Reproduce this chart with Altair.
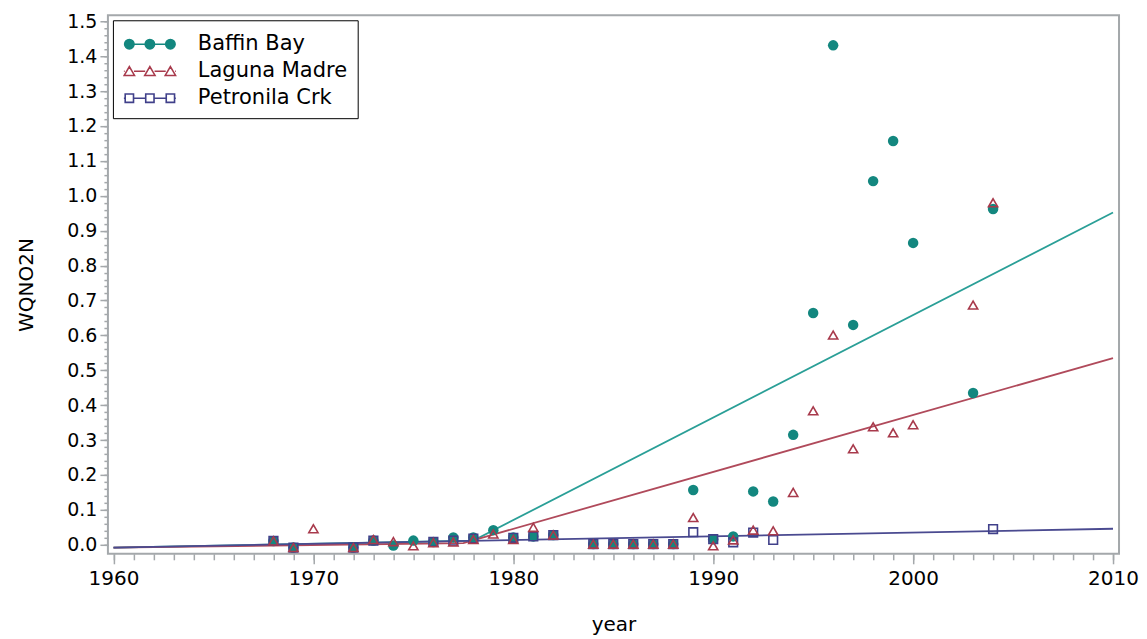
import altair as alt
import pandas as pd

sites = ["Baffin Bay", "Laguna Madre", "Petronila Crk"]
colors = ["#13877f", "#a83a4c", "#40408a"]
line_colors = ["#2a9f97", "#b04a5b", "#4a4a90"]

bb_years = [1968, 1969, 1972, 1973, 1974, 1975, 1976, 1977, 1978, 1979, 1980, 1981, 1982,
            1984, 1985, 1986, 1987, 1988, 1989, 1990, 1991, 1992, 1993, 1994, 1995, 1996,
            1997, 1998, 1999, 2000, 2003, 2004]
bb_vals = [0.011, -0.008, -0.008, 0.012, -0.002, 0.012, 0.008, 0.021, 0.021, 0.042, 0.021, 0.024, 0.028,
           0.002, 0.002, 0.002, 0.002, 0.002, 0.157, 0.016, 0.024, 0.153, 0.124, 0.315, 0.664, 1.431,
           0.630, 1.042, 1.157, 0.865, 0.435, 0.962]

lm_years = [1968, 1969, 1970, 1972, 1973, 1974, 1975, 1976, 1977, 1978, 1979, 1980, 1981, 1982,
            1984, 1985, 1986, 1987, 1988, 1989, 1990, 1991, 1992, 1993, 1994, 1995, 1996, 1997,
            1998, 1999, 2000, 2003, 2004]
lm_vals = [0.011, -0.008, 0.046, -0.008, 0.015, 0.009, -0.003, 0.006, 0.008, 0.015, 0.031, 0.015, 0.050, 0.028,
           0.002, 0.002, 0.002, 0.002, 0.002, 0.078, -0.003, 0.014, 0.042, 0.040, 0.150, 0.384, 0.601, 0.275,
           0.338, 0.321, 0.344, 0.687, 0.980]

pc_years = [1968, 1969, 1972, 1973, 1976, 1977, 1978, 1980, 1981, 1982, 1984, 1985, 1986, 1987, 1988,
            1989, 1990, 1991, 1992, 1993, 2004]
pc_vals = [0.011, -0.008, -0.008, 0.012, 0.008, 0.012, 0.018, 0.020, 0.024, 0.028, 0.002, 0.002, 0.002, 0.002, 0.002,
           0.036, 0.016, 0.007, 0.035, 0.014, 0.045]

# fitted trend lines
fit_bb_years = [1960, 1978, 2010]
fit_bb_vals = [-0.008, 0.012, 0.952]
fit_lm_years = [1960, 1977.5, 2010]
fit_lm_vals = [-0.008, 0.005, 0.535]
fit_pc_years = [1960, 2010]
fit_pc_vals = [-0.008, 0.046]

x_major = [1960, 1970, 1980, 1990, 2000, 2010]
y_major = [0.0, 0.1, 0.2, 0.3, 0.4, 0.5, 0.6, 0.7, 0.8, 0.9, 1.0, 1.1, 1.2, 1.3, 1.4, 1.5]
x_minor = list(range(1960, 2011))
y_minor = [round(i * 0.02, 2) for i in range(76)]

pts = pd.concat([
    pd.DataFrame({"site": sites[0], "year": bb_years, "value": bb_vals}),
    pd.DataFrame({"site": sites[1], "year": lm_years, "value": lm_vals}),
    pd.DataFrame({"site": sites[2], "year": pc_years, "value": pc_vals}),
])
fits = pd.concat([
    pd.DataFrame({"site": sites[0], "year": fit_bb_years, "value": fit_bb_vals}),
    pd.DataFrame({"site": sites[1], "year": fit_lm_years, "value": fit_lm_vals}),
    pd.DataFrame({"site": sites[2], "year": fit_pc_years, "value": fit_pc_vals}),
])


def circ(cx, r):
    return f"M{cx - r},0 a{r},{r} 0 1,0 {2 * r},0 a{r},{r} 0 1,0 {-2 * r},0 "


def tri(cx, r):
    return f"M{cx},{-r} L{cx + r * 1.1},{r * 0.9} L{cx - r * 1.1},{r * 0.9} Z "


def sq(cx, r):
    return f"M{cx - r},{-r} L{cx + r},{-r} L{cx + r},{r} L{cx - r},{r} Z "


def legend_path(marker, r):
    cs = [-1.58, 0.0, 1.58]
    p = f"M-2,0 L{cs[0] - r},0 M{cs[0] + r},0 L{cs[1] - r},0 M{cs[1] + r},0 L{cs[2] - r},0 M{cs[2] + r},0 L2,0 "
    for c in cs:
        p += marker(c, r)
    return p


legend_shapes = [legend_path(circ, 0.36), legend_path(tri, 0.36), legend_path(sq, 0.32)]

xs = alt.Scale(domain=[1959.72, 2010.3], nice=False, zero=False)
ys = alt.Scale(domain=[-0.0258, 1.5172], nice=False, zero=False)


def fit_line(i, axes=False):
    if axes:
        xa = alt.Axis(values=x_major, format="d", title="year", tickSize=10, labelPadding=5,
                      titlePadding=26, labelFontSize=20)
        ya = alt.Axis(values=y_major, format=".1f", title="WQNO2N", tickSize=8, labelPadding=3,
                      titlePadding=30)
    else:
        xa = None
        ya = None
    return alt.Chart(fits).transform_filter(alt.datum.site == sites[i]).mark_line(
        strokeWidth=1.8, color=line_colors[i]).encode(
        x=alt.X("year:Q", scale=xs, axis=xa),
        y=alt.Y("value:Q", scale=ys, axis=ya),
    )


minor = alt.Chart(pts).transform_filter(alt.datum.site == sites[0]).mark_circle(
    size=110, color=colors[0], opacity=1).encode(
    x=alt.X("year:Q", scale=xs, axis=alt.Axis(values=x_minor, labels=False, tickSize=6,
                                              title=None, orient="bottom")),
    y=alt.Y("value:Q", scale=ys, axis=alt.Axis(values=y_minor, labels=False, tickSize=4,
                                               title=None, orient="left")),
)

squares = alt.Chart(pts).transform_filter(alt.datum.site == sites[2]).mark_point(
    shape="square", size=75, color=colors[2], strokeWidth=1.6, filled=False, opacity=1).encode(
    x=alt.X("year:Q", scale=xs, axis=None),
    y=alt.Y("value:Q", scale=ys, axis=None),
)

triangles = alt.Chart(pts).transform_filter(alt.datum.site == sites[1]).mark_point(
    shape="triangle-up", size=85, color=colors[1], strokeWidth=1.6, filled=False, opacity=1).encode(
    x=alt.X("year:Q", scale=xs, axis=None),
    y=alt.Y("value:Q", scale=ys, axis=None),
)

leg = alt.Legend(title=None, orient="top-left", offset=5, padding=10, strokeColor="black",
                 fillColor="white", labelFont="DejaVu Sans", labelFontSize=21, labelColor="black",
                 symbolSize=676, symbolOffset=13, labelOffset=34, symbolStrokeWidth=1.6,
                 rowPadding=3)

# legend-only layer: no marks are drawn (empty after filter), the legend comes from the scales
legend_layer = alt.Chart(pts).transform_filter("false").mark_point(strokeWidth=1.6, opacity=1).encode(
    x=alt.X("year:Q", scale=xs, axis=None),
    y=alt.Y("value:Q", scale=ys, axis=None),
    color=alt.Color("site:N", scale=alt.Scale(domain=sites, range=colors), legend=leg),
    shape=alt.Shape("site:N", scale=alt.Scale(domain=sites, range=legend_shapes), legend=leg),
    fill=alt.Fill("site:N", scale=alt.Scale(domain=sites, range=[colors[0], "white", "white"]), legend=leg),
)

chart = alt.layer(fit_line(0, True), fit_line(1), fit_line(2), minor, squares, triangles,
                  legend_layer).resolve_axis(
    x="independent", y="independent"
).properties(
    width=1012, height=539,
    padding={"left": 8, "top": 4, "right": 0, "bottom": 0},
).configure_view(
    stroke="#a4a8ab", strokeWidth=2
).configure_axis(
    labelFont="DejaVu Sans", titleFont="DejaVu Sans", labelFontSize=19, titleFontSize=20,
    titleFontWeight="normal", labelColor="black", titleColor="black",
    tickColor="#a4a8ab", tickWidth=1.5, domain=False, grid=False,
)

chart.save("out.html", embed_options={"renderer": "svg", "actions": False})
